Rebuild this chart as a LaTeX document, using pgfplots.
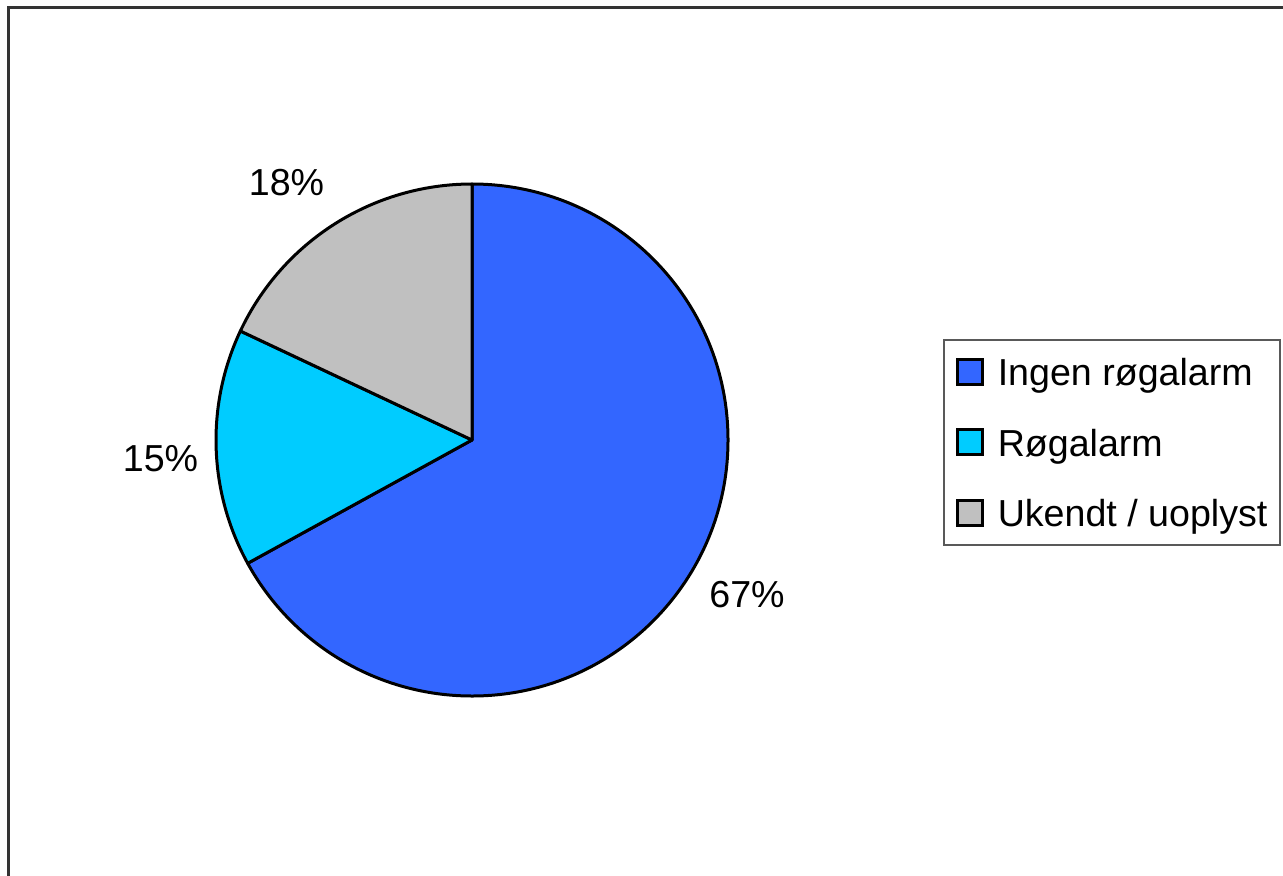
\documentclass[border=0pt]{standalone}
\usepackage{pgfplots}
\pgfplotsset{compat=1.18}
\usepackage{pgfplotstable}
\usepackage{fontspec}
\setmainfont{Liberation Sans}

\definecolor{ingen}{HTML}{3366FF}
\definecolor{alarm}{HTML}{00CCFF}
\definecolor{ukendt}{HTML}{C0C0C0}
\definecolor{frame}{HTML}{333333}

% share in %, label position (pixel grid of the page, y up)
\pgfplotstableread[col sep=comma]{
share,lx,ly
67,747,267.7
15,160.5,403.3
18,286.5,680
}\piedata

\pgfplotsset{
  square legend/.style={legend image code/.code={%
    \draw[##1,draw=black,line width=1.5pt] (0pt,-6.25pt) rectangle (12.5pt,6.25pt);}},
}

\begin{document}
\begin{tikzpicture}
\pgfplotstablegetelem{0}{share}\of\piedata \let\sA\pgfplotsretval
\pgfplotstablegetelem{1}{share}\of\piedata \let\sB\pgfplotsretval
\pgfplotstablegetelem{2}{share}\of\piedata \let\sC\pgfplotsretval
\pgfmathsetmacro\aA{90}
\pgfmathsetmacro\aB{\aA-3.6*\sA}
\pgfmathsetmacro\aC{\aB-3.6*\sB}
\pgfmathsetmacro\aD{\aC-3.6*\sC}
\def\R{128pt}

\begin{axis}[
  name=ax,
  x=0.5pt, y=0.5pt,
  xmin=0, xmax=1283, ymin=0, ymax=875,
  scale only axis,
  disabledatascaling,
  hide axis,
  /pgf/number format/assume math mode=true,
  legend style={
    at={(axis cs:943,536)}, anchor=north west,
    draw=black!65, line width=0.75pt,
    font=\fontsize{18.8}{22}\selectfont,
    inner xsep=6.25pt, inner ysep=7.5pt,
    row sep=18.25pt,
    nodes={inner sep=0pt, text height=15.5pt, text depth=1.5pt},
    /tikz/every odd column/.append style={column sep=6.75pt},
  },
  legend cell align=left,
]
\draw[frame, line width=1.2pt] (axis cs:8.5,-10) -- (axis cs:8.5,867.5) -- (axis cs:1300,867.5);

\filldraw[fill=ingen, draw=black, line width=1.5pt, line join=round]
  (axis cs:472,435) -- ++(\aA:\R) arc[start angle=\aA, end angle=\aB, radius=\R] -- cycle;
\filldraw[fill=alarm, draw=black, line width=1.5pt, line join=round]
  (axis cs:472,435) -- ++(\aB:\R) arc[start angle=\aB, end angle=\aC, radius=\R] -- cycle;
\filldraw[fill=ukendt, draw=black, line width=1.5pt, line join=round]
  (axis cs:472,435) -- ++(\aC:\R) arc[start angle=\aC, end angle=\aD, radius=\R] -- cycle;

\addplot[forget plot, draw=none, mark=none,
  point meta=explicit,
  nodes near coords={\pgfmathprintnumber{\pgfplotspointmeta}\%},
  nodes near coords style={anchor=base, inner sep=0pt, font=\fontsize{18.8}{22}\selectfont},
] table[x=lx, y=ly, meta=share] {\piedata};

\addlegendimage{square legend, fill=ingen}
\addlegendentry{Ingen røgalarm}
\addlegendimage{square legend, fill=alarm}
\addlegendentry{Røgalarm}
\addlegendimage{square legend, fill=ukendt}
\addlegendentry{Ukendt / uoplyst}
\end{axis}
\pgfresetboundingbox
\useasboundingbox (ax.south west) rectangle (ax.north east);
\end{tikzpicture}
\end{document}
